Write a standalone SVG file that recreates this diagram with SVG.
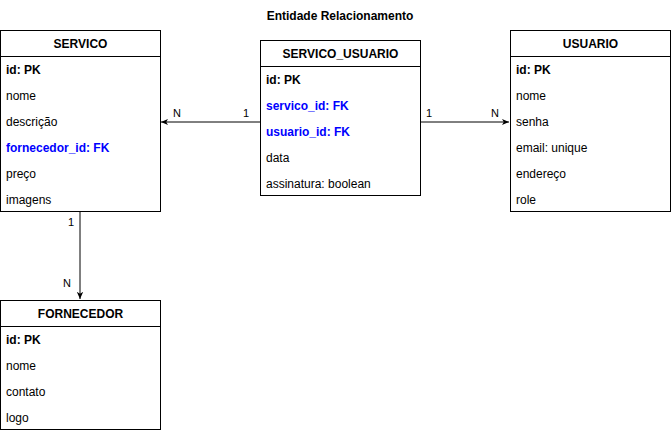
<svg xmlns="http://www.w3.org/2000/svg" width="671" height="433" viewBox="0 0 671 433">
<style>
text{font-family:"Liberation Sans",Arial,sans-serif;font-size:12px;fill:#000}
.h{font-weight:bold;text-anchor:middle}
.b{font-weight:bold}
.fk{font-weight:bold;fill:#0000FF}
.box{fill:#fff;stroke:#000;stroke-width:1}
.ln{stroke:#000;stroke-width:1;fill:none}
.lbl{font-size:11px}
</style>
<defs>
<marker id="arr" viewBox="0 0 10 10" refX="9" refY="5" markerWidth="8" markerHeight="8" markerUnits="userSpaceOnUse" orient="auto">
<path d="M0,1 L9,5 L0,9 L2.5,5 Z" fill="#000"/>
</marker>
</defs>
<rect width="671" height="433" fill="#fff"/>
<text class="h" x="340" y="20">Entidade Relacionamento</text>
<g id="connectors">
<path class="ln" d="M260,122 L161,122" marker-end="url(#arr)"/>
<text class="lbl" x="173" y="117">N</text>
<text class="lbl" x="243" y="117">1</text>
<path class="ln" d="M420,122 L509,122" marker-end="url(#arr)"/>
<text class="lbl" x="426" y="117">1</text>
<text class="lbl" x="491" y="117">N</text>
<path class="ln" d="M80,212 L80,299" marker-end="url(#arr)"/>
<text class="lbl" x="68" y="226">1</text>
<text class="lbl" x="63" y="287">N</text>
</g>
<g id="servico">
<rect class="box" x="0.5" y="30.5" width="160" height="181"/>
<path class="ln" d="M0.5,56.5 H160.5"/>
<text class="h" x="80.5" y="48">SERVICO</text>
<text class="b" x="6" y="74">id: PK</text>
<text x="6" y="100">nome</text>
<text x="6" y="126">descrição</text>
<text class="fk" x="6" y="152">fornecedor_id: FK</text>
<text x="6" y="178">preço</text>
<text x="6" y="204">imagens</text>
</g>
<g id="servico_usuario">
<rect class="box" x="260.5" y="40.5" width="160" height="155"/>
<path class="ln" d="M260.5,66.5 H420.5"/>
<text class="h" x="340.5" y="58">SERVICO_USUARIO</text>
<text class="b" x="266" y="84">id: PK</text>
<text class="fk" x="266" y="110">servico_id: FK</text>
<text class="fk" x="266" y="136">usuario_id: FK</text>
<text x="266" y="162">data</text>
<text x="266" y="188">assinatura: boolean</text>
</g>
<g id="usuario">
<rect class="box" x="510.5" y="30.5" width="160" height="181"/>
<path class="ln" d="M510.5,56.5 H670.5"/>
<text class="h" x="590.5" y="48">USUARIO</text>
<text class="b" x="516" y="74">id: PK</text>
<text x="516" y="100">nome</text>
<text x="516" y="126">senha</text>
<text x="516" y="152">email: unique</text>
<text x="516" y="178">endereço</text>
<text x="516" y="204">role</text>
</g>
<g id="fornecedor">
<rect class="box" x="0.5" y="300.5" width="160" height="129"/>
<path class="ln" d="M0.5,326.5 H160.5"/>
<text class="h" x="80.5" y="318">FORNECEDOR</text>
<text class="b" x="6" y="344">id: PK</text>
<text x="6" y="370">nome</text>
<text x="6" y="396">contato</text>
<text x="6" y="422">logo</text>
</g>
</svg>
